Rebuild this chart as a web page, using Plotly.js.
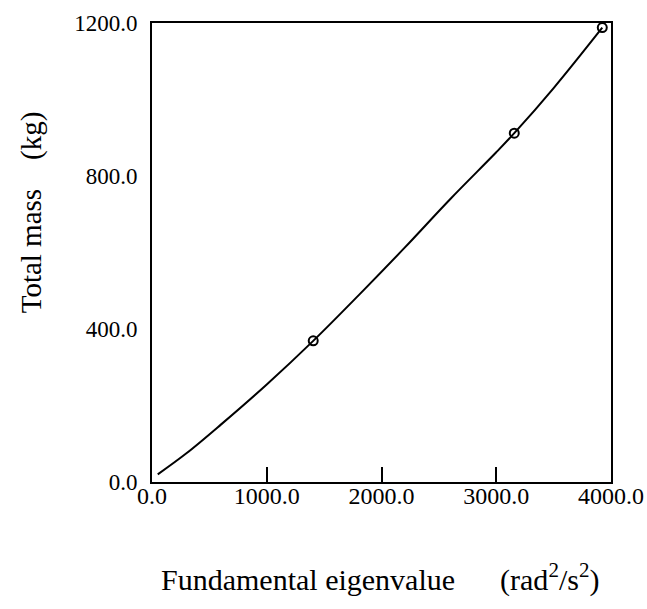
<!DOCTYPE html>
<html>
<head>
<meta charset="utf-8">
<script src="https://cdn.plot.ly/plotly-3.0.1.min.js"></script>
<style>html,body{margin:0;padding:0;background:#fff;}</style>
</head>
<body>
<div id="chart" style="width:647px;height:609px;"></div>
<script>
// Curve (eigenvalue rad^2/s^2, total mass kg)
const curveX = [50, 300, 600, 1000, 1405, 1800, 2200, 2600, 3000, 3157, 3500, 3924];
const curveY = [20, 75, 150, 255, 369, 488, 612, 740, 862, 912, 1030, 1188];
// Marked design points
const pointX = [1405, 3157, 3924];
const pointY = [369, 912, 1188];
const xTicks = [0, 1000, 2000, 3000, 4000];
const xTickText = ["0.0", "1000.0", "2000.0", "3000.0", "4000.0"];
const yTicks = [0, 400, 800, 1200];
const yTickText = ["0.0", "400.0", "800.0", "1200.0"];
const xTitle = "Fundamental eigenvalue&nbsp;&nbsp;&nbsp;&nbsp;&nbsp;&nbsp;(rad<sup>2</sup>/s<sup>2</sup>)";
const yTitle = "Total mass&nbsp;&nbsp;&nbsp;&nbsp;(kg)";

const font = "Liberation Serif, Times New Roman, serif";

Plotly.newPlot("chart", [
  {x: curveX, y: curveY, mode: "lines", line: {color: "#000", width: 2, shape: "spline"}, hoverinfo: "skip"},
  {x: pointX, y: pointY, mode: "markers", marker: {symbol: "circle-open", size: 9, color: "#000", line: {width: 2, color: "#000"}}}
], {
  width: 647, height: 609,
  margin: {l: 152, r: 36, t: 23, b: 127},
  paper_bgcolor: "#fff", plot_bgcolor: "#fff",
  showlegend: false,
  font: {family: font, color: "#000", size: 20},
  xaxis: {
    range: [0, 4000], tickvals: xTicks, ticktext: xTickText,
    ticks: "inside", ticklen: 15, tickwidth: 2, tickcolor: "#000",
    showline: true, linewidth: 2, linecolor: "#000", mirror: true,
    showgrid: false, zeroline: false,
    tickfont: {family: font, size: 24},
    ticklabelstandoff: -9
  },
  yaxis: {
    range: [0, 1200], tickvals: yTicks, ticktext: yTickText,
    ticks: "", showline: true, linewidth: 2, linecolor: "#000", mirror: true,
    showgrid: false, zeroline: false,
    tickfont: {family: font, size: 23},
    ticklabelstandoff: 8
  },
  annotations: [
    {text: xTitle, xref: "paper", yref: "paper", x: 0.496, y: -0.209, xanchor: "center", yanchor: "middle",
     showarrow: false, font: {family: font, size: 30}},
    {text: yTitle, xref: "paper", yref: "paper", x: -0.262, y: 0.587, xanchor: "center", yanchor: "middle",
     textangle: -90, showarrow: false, font: {family: font, size: 29}}
  ]
}, {displayModeBar: false, staticPlot: true});
</script>
</body>
</html>
